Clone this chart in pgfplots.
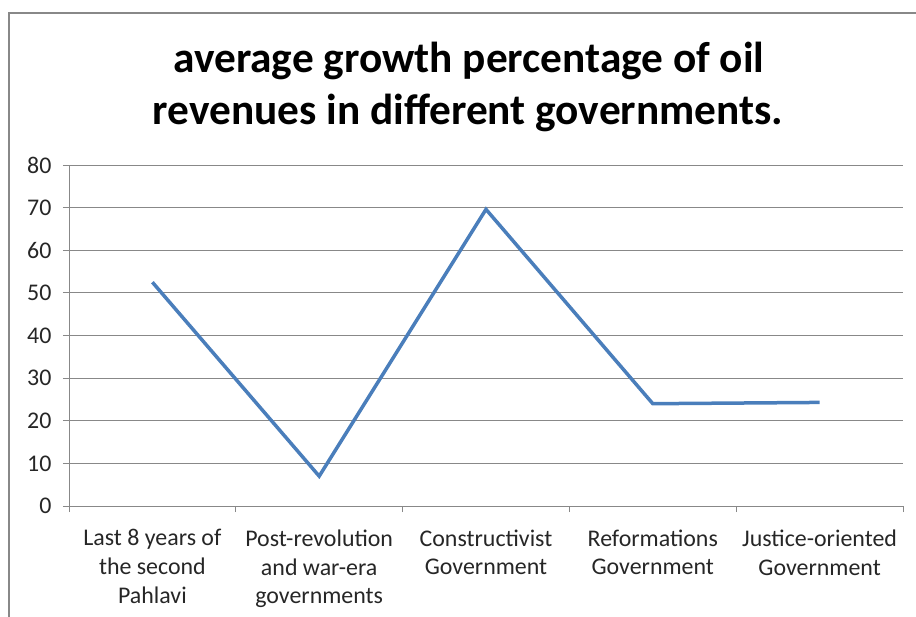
\documentclass[border=0pt]{standalone}
\usepackage{fontspec}
\setmainfont{Carlito}
\usepackage{pgfplots}
\pgfplotsset{compat=1.18}
\definecolor{linecol}{HTML}{4A7EBB}
\definecolor{gridcol}{HTML}{888888}
\begin{document}
\begin{tikzpicture}
\clip (0bp,0bp) rectangle (916bp,617bp);
\draw[gridcol, line width=2bp] (9bp,604bp) rectangle (960bp,-40bp);
\node[font=\fontsize{43.5}{52}\selectfont\bfseries, anchor=base] at (469bp,544bp) {average growth percentage of oil};
\node[font=\fontsize{43.5}{52}\selectfont\bfseries, anchor=base] at (468bp,492bp) {revenues in different governments.};
\begin{axis}[
  at={(69bp,111bp)}, anchor=south west,
  scale only axis, width=834bp, height=341bp,
  xmin=-0.5, xmax=4.5, ymin=0, ymax=80,
  ytick={0,10,20,30,40,50,60,70,80},
  xtick={-0.5,0.5,1.5,2.5,3.5,4.5},
  x tick label as interval,
  xticklabels={{Last 8 years of\\the second\\Pahlavi},{Post-revolution\\and war-era\\governments},{Constructivist\\Government},{Reformations\\Government},{Justice-oriented\\Government}},
  xticklabel style={font=\fontsize{24}{29}\selectfont, align=center, text=black!85, yshift=-14bp},
  yticklabel style={font=\fontsize{24}{28}\selectfont, text=black!85, xshift=-8bp},
  /pgf/number format/assume math mode=true,
  axis x line*=bottom, axis y line*=left,
  axis line style={gridcol, line width=1bp, -},
  tick align=outside, major tick length=6bp,
  tick style={gridcol, line width=1bp},
  ymajorgrids, grid style={gridcol, line width=1bp},
  clip=false,
]
\addplot[linecol, line width=3.5bp, mark=none] coordinates {(0,52.5) (1,7) (2,69.6) (3,24) (4,24.3)};
\end{axis}
\end{tikzpicture}
\end{document}
